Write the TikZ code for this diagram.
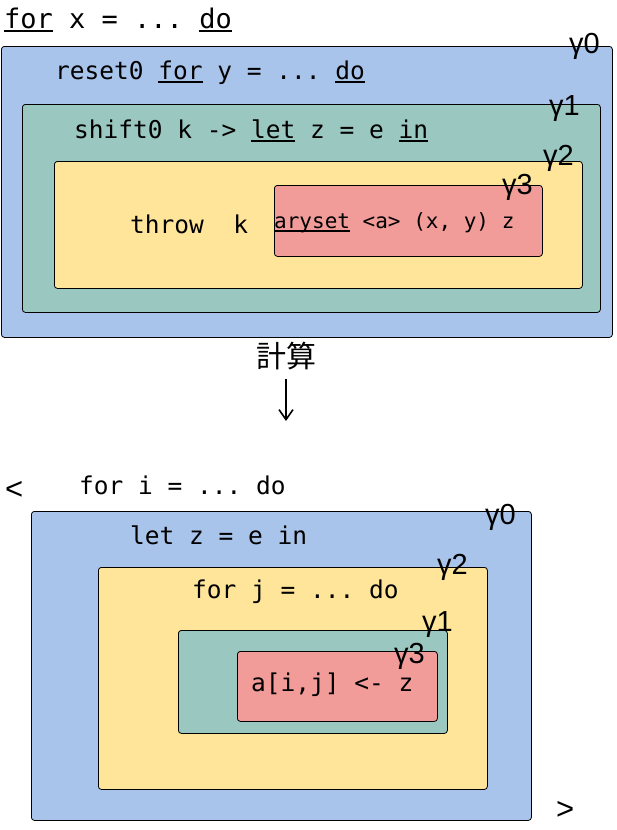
\documentclass[tikz,border=0pt]{standalone}
\usepackage{fontspec}
\setmonofont{DejaVu Sans Mono}
\newfontfamily\gkfont{Liberation Sans}
\newfontfamily\cjkfont{Noto Sans CJK JP}
\usetikzlibrary{arrows.meta}
\definecolor{blueA}{HTML}{A9C4EB}
\definecolor{tealA}{HTML}{9AC7BF}
\definecolor{yellowA}{HTML}{FFE599}
\definecolor{redA}{HTML}{F19C99}
% keyword underline at a fixed depth, crossing any descenders
\newcommand\kw[1]{\setbox0=\hbox{#1}\rlap{\rule[-3.6pt]{\wd0}{1.2pt}}\box0\relax}
\begin{document}
\begin{tikzpicture}[x=1pt,y=-1pt,
  region/.style={draw=black, line width=0.8pt, rounded corners=3pt,
    anchor=north west, inner sep=0pt},
  code/.style={font=\ttfamily\fontsize{24.5}{28}\selectfont,
    anchor=base west, inner sep=0pt},
  bigcode/.style={code, font=\ttfamily\fontsize{27}{30}\selectfont},
  smallcode/.style={code, font=\ttfamily\fontsize{21}{24}\selectfont},
  lbl/.style={font=\gkfont\fontsize{29}{32}\selectfont,
    anchor=base west, inner sep=0pt},
  bracketmark/.style={font=\gkfont\fontsize{31}{32}\selectfont,
    anchor=base west, inner sep=0pt}]
\useasboundingbox (0,0) rectangle (617,830);

% ---- before: nested continuation regions ----
\node[region, fill=blueA,   minimum width=611pt, minimum height=291pt] (topA) at (1,46) {};
\node[region, fill=tealA,   minimum width=578pt, minimum height=208pt] (topB) at (22,104) {};
\node[region, fill=yellowA, minimum width=528pt, minimum height=127pt] (topC) at (54,161) {};
\node[region, fill=redA,    minimum width=268pt, minimum height=71pt]  (topD) at (274,185) {};

\node[bigcode] (loopx) at (4,28) {\kw{for} x = ... \kw{do}};
\node[code] (resetline) at (55,79) {reset0 \kw{for} y = ... \kw{do}};
\node[code] (shiftline) at (74,138) {shift0 k -> \kw{let} z = e \kw{in}};
\node[code] (throwline) at (130,233) {throw~~k};
\node[smallcode] (arysetline) at (274,228) {\kw{aryset} <a> (x, y) z};

\node[lbl] (topLabA) at (569,53) {γ0};
\node[lbl] (topLabB) at (549,115) {γ1};
\node[lbl] (topLabC) at (543,165) {γ2};
\node[lbl] (topLabD) at (502,194) {γ3};

% ---- evaluation step ----
\node[font=\cjkfont\fontsize{30}{32}\selectfont, inner sep=0pt] (compute) at (286,356) {計算};
\coordinate (computeEnd) at (286,421);
\draw[line width=1.6pt, -{Straight Barb[length=10pt,width=14pt]}]
  ([yshift=-9pt]compute.south) -- (computeEnd);

% ---- after: reordered regions ----
\node[region, fill=blueA,   minimum width=500pt, minimum height=309pt] (botA) at (31,511) {};
\node[region, fill=yellowA, minimum width=389pt, minimum height=222pt] (botC) at (98,567) {};
\node[region, fill=tealA,   minimum width=269pt, minimum height=103pt] (botB) at (178,630) {};
\node[region, fill=redA,    minimum width=200pt, minimum height=70pt]  (botD) at (237,651) {};

\node[bracketmark] (openmark) at (5,499) {<};
\node[bracketmark] (closemark) at (556,819) {>};
\node[code] (loopi) at (79,494) {for i = ... do};
\node[code] (letline) at (130,544) {let z = e in};
\node[code] (loopj) at (192,598) {for j = ... do};
\node[code] (assign) at (251,691) {a[i,j] <- z};

\node[lbl] (botLabA) at (485,524) {γ0};
\node[lbl] (botLabC) at (437,574) {γ2};
\node[lbl] (botLabB) at (422,631) {γ1};
\node[lbl] (botLabD) at (394,663) {γ3};
\end{tikzpicture}
\end{document}
